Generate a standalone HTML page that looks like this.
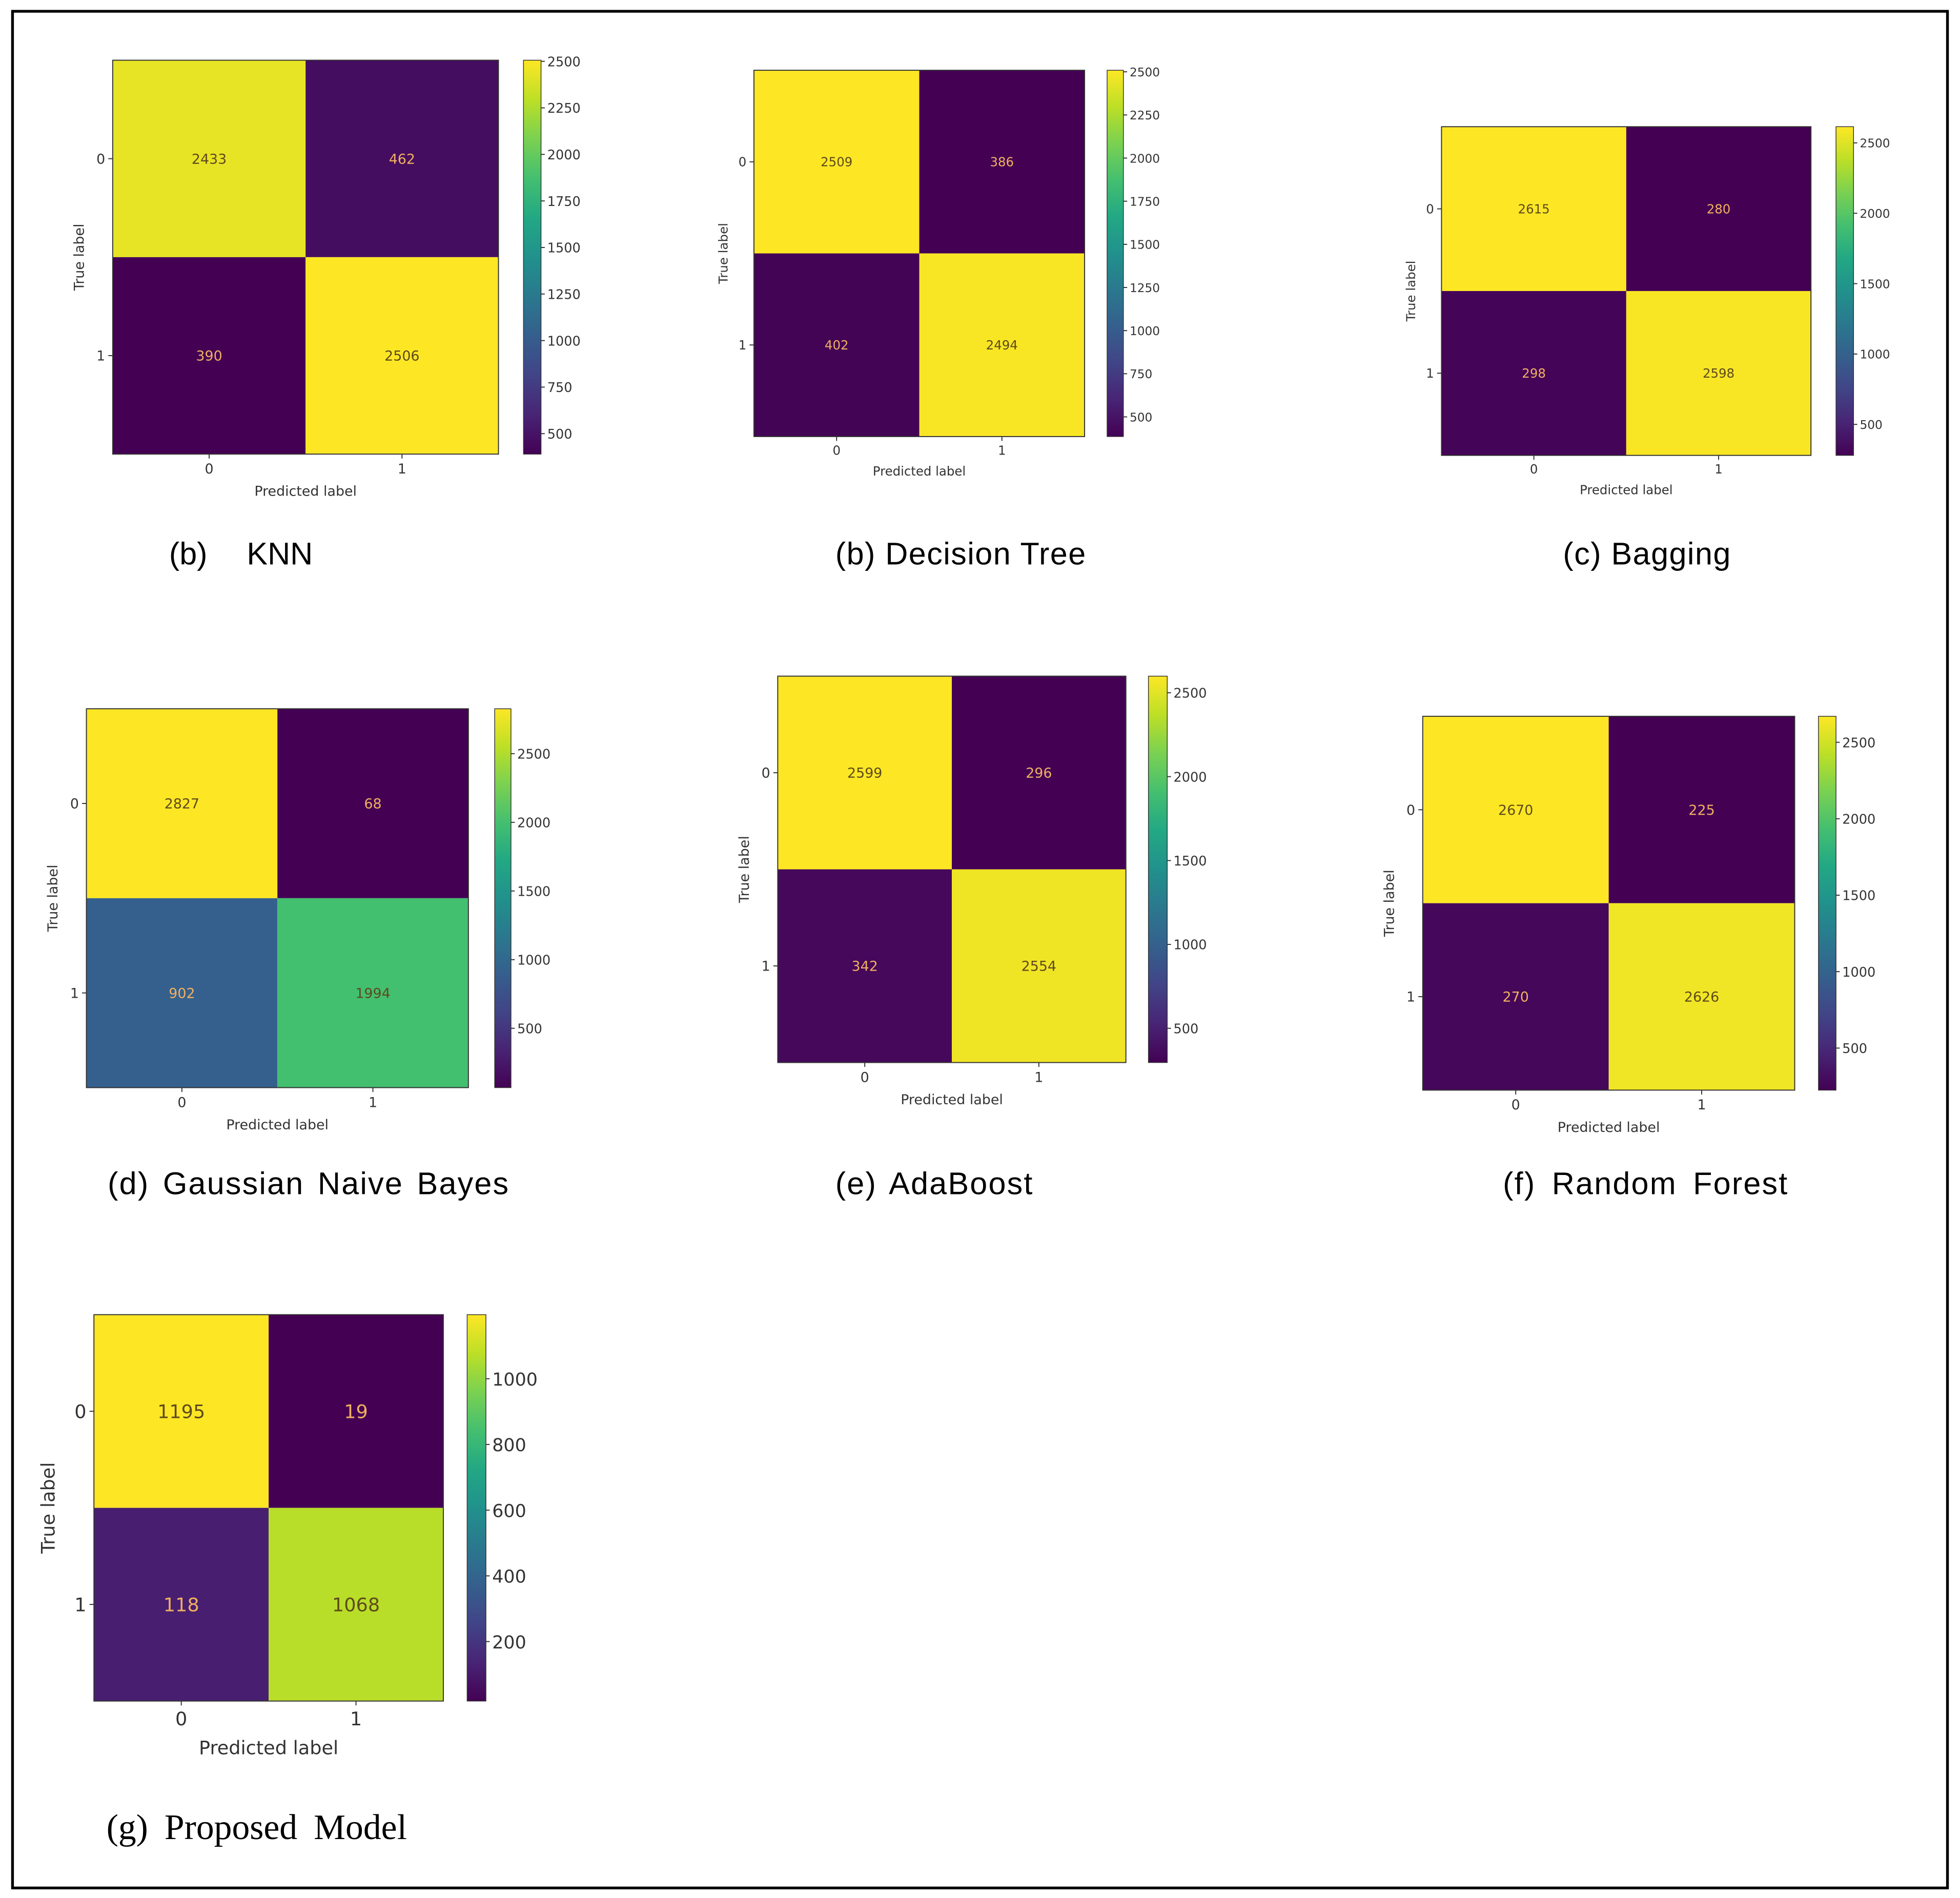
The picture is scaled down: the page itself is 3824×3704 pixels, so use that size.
<!DOCTYPE html>
<html><head><meta charset="utf-8">
<style>
html,body{margin:0;padding:0;background:#fff;}
svg{display:block;}
text{font-family:"DejaVu Sans","Liberation Sans",sans-serif;}
</style></head>
<body>
<svg id="fig" width="3824" height="3704" viewBox="0 0 1565 1513" preserveAspectRatio="none" xmlns="http://www.w3.org/2000/svg">
<rect x="10" y="9" width="1545" height="1496" fill="#fff" stroke="#000" stroke-width="2.2"/>
<defs id="defs"></defs>
<g id="panels"></g>
<text x="135" y="450" font-size="25" style="font-family:'Liberation Sans',sans-serif">(b)</text>
<text x="197" y="450" font-size="25" style="font-family:'Liberation Sans',sans-serif">KNN</text>
<text x="667" y="450" font-size="25" style="font-family:'Liberation Sans',sans-serif;letter-spacing:0.6px">(b) Decision Tree</text>
<text x="1248" y="450" font-size="25" style="font-family:'Liberation Sans',sans-serif;letter-spacing:0.6px">(c) Bagging</text>
<text x="86" y="952" font-size="25" style="font-family:'Liberation Sans',sans-serif;letter-spacing:0.9px;word-spacing:3px">(d) Gaussian Naive Bayes</text>
<text x="667" y="952" font-size="25" style="font-family:'Liberation Sans',sans-serif;letter-spacing:0.9px;word-spacing:3px">(e) AdaBoost</text>
<text x="1200" y="952" font-size="25" style="font-family:'Liberation Sans',sans-serif;letter-spacing:0.9px;word-spacing:5px">(f) Random Forest</text>
<text x="85" y="1466" font-size="28.5" style="font-family:'Liberation Serif',serif;word-spacing:6px">(g) Proposed Model</text>
</svg>
<script>
const classLabels = ["0","1"];
const knnValues = [[2433,462],[390,2506]];
const knnTicks = [500,750,1000,1250,1500,1750,2000,2250,2500];
const dtValues = [[2509,386],[402,2494]];
const dtTicks = [500,750,1000,1250,1500,1750,2000,2250,2500];
const bagValues = [[2615,280],[298,2598]];
const bagTicks = [500,1000,1500,2000,2500];
const gnbValues = [[2827,68],[902,1994]];
const gnbTicks = [500,1000,1500,2000,2500];
const adaValues = [[2599,296],[342,2554]];
const adaTicks = [500,1000,1500,2000,2500];
const rfValues = [[2670,225],[270,2626]];
const rfTicks = [500,1000,1500,2000,2500];
const propValues = [[1195,19],[118,1068]];
const propTicks = [200,400,600,800,1000];

const layouts = [
  {id:"knn", vals:knnValues, ticks:knnTicks, x0:90,y0:48,x1:398,y1:362, c0:418,c1:432, fs:11},
  {id:"decision-tree", vals:dtValues, ticks:dtTicks, x0:602,y0:56,x1:866,y1:348, c0:884,c1:897, fs:10},
  {id:"bagging", vals:bagValues, ticks:bagTicks, x0:1151,y0:101,x1:1446,y1:363, c0:1466,c1:1480, fs:10},
  {id:"gaussian-nb", vals:gnbValues, ticks:gnbTicks, x0:69,y0:565,x1:374,y1:867, c0:395,c1:408, fs:11},
  {id:"adaboost", vals:adaValues, ticks:adaTicks, x0:621,y0:539,x1:899,y1:847, c0:917,c1:932, fs:11},
  {id:"random-forest", vals:rfValues, ticks:rfTicks, x0:1136,y0:571,x1:1433,y1:869, c0:1452,c1:1466, fs:11},
  {id:"proposed", vals:propValues, ticks:propTicks, x0:75,y0:1048,x1:354,y1:1356, c0:373,c1:388, fs:15}
];
const vir = ["#440154","#482475","#414487","#355f8d","#2a788e","#21918c","#22a884","#44bf70","#7ad151","#bddf26","#fde725"];
function hex(c){return [1,3,5].map(i=>parseInt(c.substr(i,2),16));}
function viridis(t){
  t=Math.max(0,Math.min(1,t));
  const p=t*10, i=Math.min(9,Math.floor(p)), f=p-i;
  const a=hex(vir[i]), b=hex(vir[i+1]);
  return "rgb("+a.map((v,k)=>Math.round(v+(b[k]-v)*f)).join(",")+")";
}
const NS="http://www.w3.org/2000/svg";
function mk(tag, attrs, parent, txt){
  const e=document.createElementNS(NS,tag);
  for(const k in attrs) e.setAttribute(k,attrs[k]);
  if(txt!==undefined) e.textContent=txt;
  parent.appendChild(e); return e;
}
const root=document.getElementById("panels");
const defs=document.getElementById("defs");
layouts.forEach(L=>{
  const g=mk("g",{},root);
  
  
  const flat=[].concat(...L.vals);
  const vmin=Math.min(...flat), vmax=Math.max(...flat);
  const cw=(L.x1-L.x0)/2, ch=(L.y1-L.y0)/2;
  const xs=i=>L.x0+cw*(i+0.5), ys=j=>L.y0+ch*(j+0.5);
  L.vals.forEach((row,r)=>row.forEach((v,c)=>{
    const t=(v-vmin)/(vmax-vmin);
    const cell=mk("rect",{x:L.x0+c*cw,y:L.y0+r*ch,width:cw,height:ch,fill:viridis(t)},g);
    
    
    const tx=mk("text",{x:xs(c),y:ys(r)+L.fs*0.36,"text-anchor":"middle","font-size":L.fs,fill:t<0.5?"#f0b060":"#5e4a1c"},g,String(v));
    
    
  }));
  mk("rect",{x:L.x0,y:L.y0,width:L.x1-L.x0,height:L.y1-L.y0,fill:"none",stroke:"#333","stroke-width":0.8},g);
  classLabels.forEach((lab,i)=>{
    mk("line",{x1:L.x0-3.5,x2:L.x0,y1:ys(i),y2:ys(i),stroke:"#333","stroke-width":0.8},g);
    const yl=mk("text",{x:L.x0-6,y:ys(i)+L.fs*0.36,"text-anchor":"end","font-size":L.fs,fill:"#333"},g,lab);
    
    
    mk("line",{x1:xs(i),x2:xs(i),y1:L.y1,y2:L.y1+3.5,stroke:"#333","stroke-width":0.8},g);
    const xl=mk("text",{x:xs(i),y:L.y1+5+L.fs*0.95,"text-anchor":"middle","font-size":L.fs,fill:"#333"},g,lab);
    
    
  });
  const xt=mk("text",{x:(L.x0+L.x1)/2,y:L.y1+8+L.fs*2.3,"text-anchor":"middle","font-size":L.fs,fill:"#333"},g,"Predicted label");
  
  
  const ytx=L.x0-L.fs*2.1, ytyy=(L.y0+L.y1)/2;
  const yt=mk("text",{x:ytx,y:ytyy,"text-anchor":"middle","font-size":L.fs,fill:"#333",transform:"rotate(-90 "+ytx+" "+ytyy+")"},g,"True label");
  
  
  const gid="grad-"+L.id;
  const gr=mk("linearGradient",{id:gid,x1:0,y1:1,x2:0,y2:0},defs);
  for(let k=0;k<=10;k++) mk("stop",{offset:k/10,"stop-color":vir[k]},gr);
  const cb=mk("rect",{x:L.c0,y:L.y0,width:L.c1-L.c0,height:L.y1-L.y0,fill:"url(#"+gid+")",stroke:"#333","stroke-width":0.6},g);
  
  
  const cy=v=>L.y1-(v-vmin)/(vmax-vmin)*(L.y1-L.y0);
  L.ticks.forEach(v=>{
    mk("line",{x1:L.c1,x2:L.c1+3,y1:cy(v),y2:cy(v),stroke:"#333","stroke-width":0.8},g);
    const tl=mk("text",{x:L.c1+5,y:cy(v)+L.fs*0.36,"font-size":L.fs*0.95,fill:"#333"},g,String(v));
    
    
  });
});
</script>
</body></html>
